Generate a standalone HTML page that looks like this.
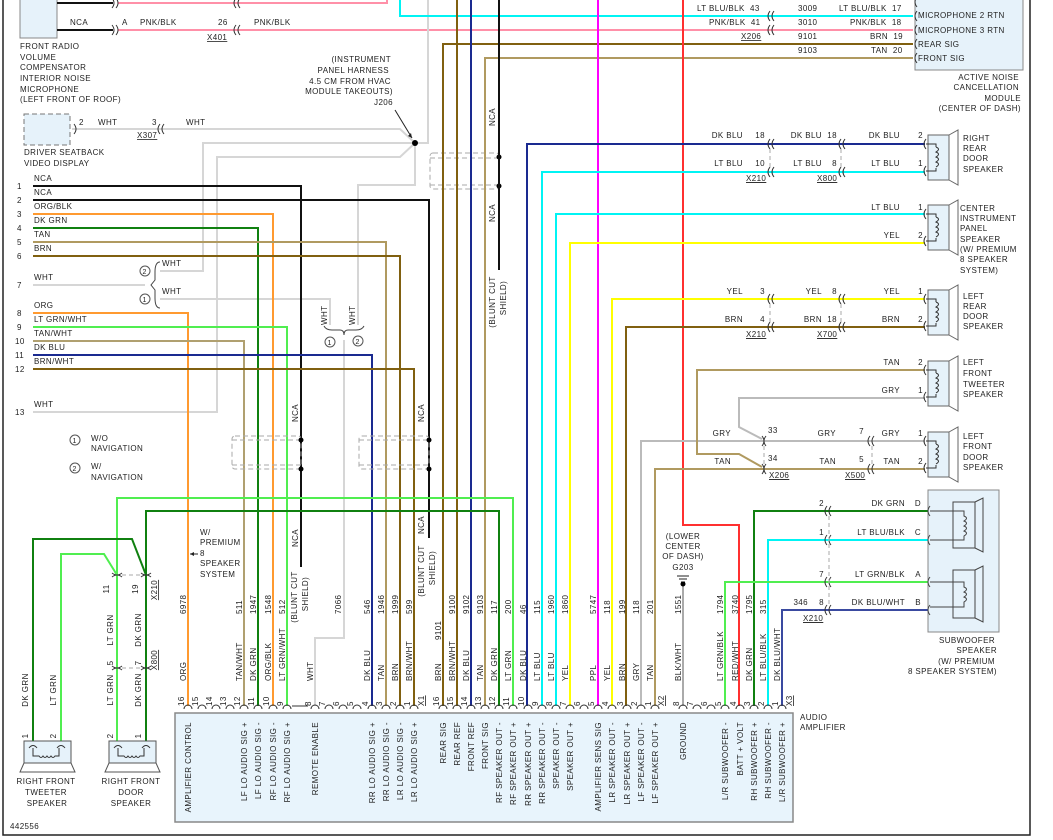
<!DOCTYPE html><html><head><meta charset="utf-8"><style>
body{margin:0;background:#fff}
svg{display:block}
text{font-family:"Liberation Sans",sans-serif;font-size:8px;fill:#222;letter-spacing:.4px}
.w{fill:none;stroke-width:2}
.c{fill:none;stroke:#333;stroke-width:1}
</style></head><body>
<svg width="1053" height="840" viewBox="0 0 1053 840" xmlns="http://www.w3.org/2000/svg">
<path d="M3 0V835H1030V0" fill="none" stroke="#222" stroke-width="1.5"/>

<rect x="20" y="-2" width="37" height="40" fill="#e6f2fa" stroke="#888"/>
<path class="w" stroke="#111" d="M57 3H113M57 30H113"/>
<path class="w" stroke="#ff90a8" d="M118 3H387V0M118 30H913"/>
<path class="c" d="M112 -2q4 5 0 10M116 -2q4 5 0 10M112 25q4 5 0 10M116 25q4 5 0 10M236 -2q-4 5 0 10M240 -2q-4 5 0 10M236 25q-4 5 0 10M240 25q-4 5 0 10"/>
<text x="70" y="25">NCA</text><text x="122" y="25">A</text><text x="140" y="25">PNK/BLK</text><text x="218" y="25">26</text><text x="254" y="25">PNK/BLK</text>
<text x="207" y="40" text-decoration="underline">X401</text>
<text x="20" y="49">FRONT RADIO</text><text x="20" y="60">VOLUME</text><text x="20" y="70">COMPENSATOR</text><text x="20" y="81">INTERIOR NOISE</text><text x="20" y="92">MICROPHONE</text><text x="20" y="102">(LEFT FRONT OF ROOF)</text>

<rect x="24" y="114" width="46" height="31" fill="#e6f2fa" stroke="#777" stroke-dasharray="5,3"/>
<text x="24" y="155">DRIVER SEATBACK</text><text x="24" y="166">VIDEO DISPLAY</text>
<text x="79" y="125">2</text><text x="98" y="125">WHT</text><text x="152" y="125">3</text><text x="186" y="125">WHT</text>
<text x="137" y="138" text-decoration="underline">X307</text>

<g class="w" stroke="#d6d6d6">
<path d="M72 129H400L415 143"/>
<path d="M160 271H203V143H415"/>
<path d="M33 412H217V157H400L415 143"/>
<path d="M415 143V185H358V325"/>
<path d="M428 0V143H415"/>
<path d="M160 299H330V325"/>
<path d="M344 340V638H315V706"/>
<path d="M33 285H145"/>
</g>
<path class="c" d="M74 124q4 5 0 10M160 124q-4 5 0 10M164 124q-4 5 0 10"/>
<path d="M324 326q2 4 8 4h8q4 0 4 5q0-5 4-5h8q6 0 8-4" fill="none" stroke="#444"/>
<circle cx="330" cy="342" r="5" fill="none" stroke="#555"/><text x="327.5" y="345" style="font-size:7px">1</text>
<circle cx="358" cy="341" r="5" fill="none" stroke="#555"/><text x="355.5" y="344" style="font-size:7px">2</text>
<text transform="translate(327,325) rotate(-90)">WHT</text><text transform="translate(355,325) rotate(-90)">WHT</text>
<circle cx="415" cy="143" r="3" fill="#000"/>
<path d="M395 110L412 138" stroke="#222"/><path d="M412 138l-4-2 3-3z" fill="#222"/>
<g text-anchor="end"><text x="391" y="62">(INSTRUMENT</text><text x="389" y="73">PANEL HARNESS</text><text x="391" y="84">4.5 CM FROM HVAC</text><text x="393" y="94">MODULE TAKEOUTS)</text><text x="393" y="105">J206</text></g>

<path d="M160 262q-5 0-5 10v8l-4 5 4 5v8q0 10 5 10" fill="none" stroke="#444"/>
<circle cx="145" cy="271" r="5" fill="none" stroke="#555"/><text x="142.5" y="274" style="font-size:7px">2</text>
<circle cx="145" cy="299" r="5" fill="none" stroke="#555"/><text x="142.5" y="302" style="font-size:7px">1</text>
<text x="162" y="266">WHT</text><text x="162" y="294">WHT</text>

<g class="w">
<path stroke="#111" d="M33 186H301V567"/>
<path stroke="#111" d="M33 200H429V538"/>
<path stroke="#ff9a30" d="M33 214H273V706"/>
<path stroke="#108010" d="M33 228H258V706"/>
<path stroke="#b09a60" d="M33 242H386V706"/>
<path stroke="#806010" d="M33 256H400V706"/>
<path stroke="#ff9a30" d="M33 313H188V706"/>
<path stroke="#50ee50" d="M33 327H287V706"/>
<path stroke="#b0a070" d="M33 341H244V706"/>
<path stroke="#1a2a90" d="M33 355H372V706"/>
<path stroke="#806010" d="M33 369H414V706"/>
</g>
<g><text x="17" y="189">1</text><text x="17" y="203">2</text><text x="17" y="217">3</text><text x="17" y="231">4</text><text x="17" y="245">5</text><text x="17" y="259">6</text><text x="17" y="288">7</text><text x="17" y="316">8</text><text x="17" y="330">9</text><text x="15" y="344">10</text><text x="15" y="358">11</text><text x="15" y="372">12</text><text x="15" y="415">13</text></g>
<g><text x="34" y="181">NCA</text><text x="34" y="195">NCA</text><text x="34" y="209">ORG/BLK</text><text x="34" y="223">DK GRN</text><text x="34" y="237">TAN</text><text x="34" y="251">BRN</text><text x="34" y="280">WHT</text><text x="34" y="308">ORG</text><text x="34" y="322">LT GRN/WHT</text><text x="34" y="336">TAN/WHT</text><text x="34" y="350">DK BLU</text><text x="34" y="364">BRN/WHT</text><text x="34" y="407">WHT</text></g>

<g fill="none" stroke="#aaa" stroke-dasharray="5,3">
<rect x="232" y="436" width="69" height="33" rx="3"/><path d="M232 440H301M232 465H301"/>
<rect x="359" y="436" width="70" height="33" rx="3"/><path d="M359 440H429M359 465H429"/>
<rect x="430" y="153" width="69" height="36" rx="3"/><path d="M430 158H499M430 185H499"/>
</g>
<g fill="#000"><circle cx="301" cy="440" r="2.5"/><circle cx="301" cy="469" r="2.5"/><circle cx="429" cy="440" r="2.5"/><circle cx="429" cy="469" r="2.5"/><circle cx="499" cy="157" r="2.5"/><circle cx="499" cy="186" r="2.5"/></g>
<g text-anchor="middle">
<text transform="translate(298,413) rotate(-90)">NCA</text><text transform="translate(298,538) rotate(-90)">NCA</text>
<text transform="translate(297,597) rotate(-90)">(BLUNT CUT</text><text transform="translate(308,594) rotate(-90)">SHIELD)</text>
<text transform="translate(424,413) rotate(-90)">NCA</text><text transform="translate(424,525) rotate(-90)">NCA</text>
<text transform="translate(424,571) rotate(-90)">(BLUNT CUT</text><text transform="translate(435,568) rotate(-90)">SHIELD)</text>
<text transform="translate(495,117) rotate(-90)">NCA</text><text transform="translate(495,213) rotate(-90)">NCA</text>
<text transform="translate(495,302) rotate(-90)">(BLUNT CUT</text><text transform="translate(506,298) rotate(-90)">SHIELD)</text>
</g>

<circle cx="75" cy="440" r="5" fill="none" stroke="#555"/><text x="72.5" y="443" style="font-size:7px">1</text>
<circle cx="75" cy="468" r="5" fill="none" stroke="#555"/><text x="72.5" y="471" style="font-size:7px">2</text>
<text x="91" y="441">W/O</text><text x="91" y="451">NAVIGATION</text><text x="91" y="469">W/</text><text x="91" y="480">NAVIGATION</text>
<text x="200" y="535">W/</text><text x="200" y="545">PREMIUM</text><text x="200" y="556">8</text><text x="200" y="566">SPEAKER</text><text x="200" y="577">SYSTEM</text>
<path d="M190 554H198" stroke="#222"/><path d="M190 554l4-2v4z" fill="#222"/>

<g class="w">
<path stroke="#00f4f4" d="M400 0V16H913"/>
<path stroke="#806010" d="M443 706V44H913"/>
<path stroke="#b09a60" d="M485 706V58H913"/>
<path stroke="#806010" d="M457 0V706"/>
<path stroke="#1a2a90" d="M471 0V706"/>
<path stroke="#111" d="M499 0V270"/>
<path stroke="#ff00ff" d="M598 0V706"/>
<path stroke="#ff3030" d="M683 0V525H739V706"/>
<path stroke="#aaa" d="M683 586V706"/>
<path stroke="#108010" d="M499 706V511H146V742"/>
<path stroke="#50ee50" d="M513 706V498H117V742"/>
<path stroke="#108010" d="M33 742V539H132L146 575"/>
<path stroke="#50ee50" d="M61 742V554H104L117 575"/>
<path stroke="#1a2a90" d="M527 706V144H925"/>
<path stroke="#00f4f4" d="M542 706V172H925"/>
<path stroke="#00f4f4" d="M556 706V214H925"/>
<path stroke="#ffff00" d="M570 706V243H925"/>
<path stroke="#ffff00" d="M612 706V299H925"/>
<path stroke="#806010" d="M626 706V327H925"/>
<path stroke="#bbb" d="M641 706V441H925"/>
<path stroke="#b09a60" d="M655 706V469H925"/>
<path stroke="#b09a60" d="M925 370H697V454H739L762 467"/>
<path stroke="#bbb" d="M925 398H739V427L762 439"/>
<path stroke="#108010" d="M754 706V511H928"/>
<path stroke="#00f4f4" d="M768 706V540H928"/>
<path stroke="#50ee50" d="M725 706V582H928"/>
<path stroke="#3a4aa0" d="M782 706V610H928"/>
</g>

<path class="c" d="M770 11q-4 5 0 10M774 11q-4 5 0 10M770 25q-4 5 0 10M774 25q-4 5 0 10"/>
<text x="697" y="11">LT BLU/BLK&#160;&#160;43</text><text x="798" y="11">3009</text><text x="839" y="11">LT BLU/BLK&#160;&#160;17</text>
<text x="709" y="25">PNK/BLK&#160;&#160;41</text><text x="798" y="25">3010</text><text x="850" y="25">PNK/BLK&#160;&#160;18</text>
<text x="741" y="39" text-decoration="underline">X206</text>
<text x="798" y="39">9101</text><text x="870" y="39">BRN&#160;&#160;19</text>
<text x="798" y="53">9103</text><text x="871" y="53">TAN&#160;&#160;20</text>
<rect x="915" y="-2" width="108" height="72" fill="#e6f2fa" stroke="#888"/>
<path class="c" d="M917 11q-4 5 0 10M917 25q-4 5 0 10M917 39q-4 5 0 10M917 53q-4 5 0 10M917 -3q-4 5 0 10"/>
<text x="918" y="18">MICROPHONE 2 RTN</text><text x="918" y="33">MICROPHONE 3 RTN</text><text x="918" y="47">REAR SIG</text><text x="918" y="61">FRONT SIG</text>
<g text-anchor="end"><text x="1019" y="80">ACTIVE NOISE</text><text x="1019" y="90">CANCELLATION</text><text x="1021" y="101">MODULE</text><text x="1021" y="111">(CENTER OF DASH)</text></g>

<g class="c">
<path d="M770 139q-4 5 0 10M774 139q-4 5 0 10M770 167q-4 5 0 10M774 167q-4 5 0 10M841 139q-4 5 0 10M845 139q-4 5 0 10M841 167q-4 5 0 10M845 167q-4 5 0 10"/>
<path d="M770 294q-4 5 0 10M774 294q-4 5 0 10M770 322q-4 5 0 10M774 322q-4 5 0 10M841 294q-4 5 0 10M845 294q-4 5 0 10M841 322q-4 5 0 10M845 322q-4 5 0 10"/>
<path d="M762 436q4 5 0 10M766 436q-4 5 0 10M762 464q4 5 0 10M766 464q-4 5 0 10M870 436q-4 5 0 10M874 436q-4 5 0 10M870 464q-4 5 0 10M874 464q-4 5 0 10"/>
<path d="M827 506q-4 5 0 10M831 506q-4 5 0 10M827 535q-4 5 0 10M831 535q-4 5 0 10M827 577q-4 5 0 10M831 577q-4 5 0 10M827 605q-4 5 0 10M831 605q-4 5 0 10"/>
<path stroke="#aaa" stroke-dasharray="4,3" d="M770 149V167M841 149V167M770 304V322M841 304V322M764 446V464M872 446V464M829 516V605"/>
</g>
<g text-anchor="end">
<text x="743" y="138">DK BLU</text><text x="765" y="138">18</text><text x="822" y="138">DK BLU</text><text x="837" y="138">18</text><text x="900" y="138">DK BLU</text><text x="923" y="138">2</text>
<text x="743" y="166">LT BLU</text><text x="765" y="166">10</text><text x="822" y="166">LT BLU</text><text x="837" y="166">8</text><text x="900" y="166">LT BLU</text><text x="923" y="166">1</text>
<text x="900" y="210">LT BLU</text><text x="923" y="210">1</text><text x="900" y="238">YEL</text><text x="923" y="238">2</text>
<text x="743" y="294">YEL</text><text x="765" y="294">3</text><text x="822" y="294">YEL</text><text x="837" y="294">8</text><text x="900" y="294">YEL</text><text x="923" y="294">1</text>
<text x="743" y="322">BRN</text><text x="765" y="322">4</text><text x="822" y="322">BRN</text><text x="837" y="322">18</text><text x="900" y="322">BRN</text><text x="923" y="322">2</text>
<text x="900" y="365">TAN</text><text x="923" y="365">2</text><text x="900" y="393">GRY</text><text x="923" y="393">1</text>
<text x="731" y="436">GRY</text><text x="836" y="436">GRY</text><text x="864" y="434">7</text><text x="900" y="436">GRY</text><text x="923" y="436">1</text>
<text x="731" y="464">TAN</text><text x="836" y="464">TAN</text><text x="864" y="462">5</text><text x="900" y="464">TAN</text><text x="923" y="464">2</text>
<text x="824" y="506">2</text><text x="905" y="506">DK GRN</text><text x="921" y="506">D</text>
<text x="824" y="535">1</text><text x="905" y="535">LT BLU/BLK</text><text x="921" y="535">C</text>
<text x="824" y="577">7</text><text x="905" y="577">LT GRN/BLK</text><text x="921" y="577">A</text>
<text x="824" y="605">8</text><text x="905" y="605">DK BLU/WHT</text><text x="921" y="605">B</text><text x="808" y="605">346</text>
</g>
<text x="768" y="433">33</text><text x="768" y="461">34</text>
<g text-decoration="underline"><text x="746" y="181">X210</text><text x="817" y="181">X800</text><text x="746" y="337">X210</text><text x="817" y="337">X700</text><text x="769" y="478">X206</text><text x="845" y="478">X500</text><text x="803" y="621">X210</text></g>

<defs><g id="spk"><rect x="928" y="0" width="21" height="45" fill="#e6f2fa" stroke="#666"/><path d="M949 0L958-5V50L949 45" fill="none" stroke="#666"/><path d="M926 9h10v3M926 36h10v-3M936 12q5 2 0 5q5 2 0 5q5 2 0 5q5 2 0 5" fill="none" stroke="#333"/><path d="M926 4q-4 5 0 10M926 31q-4 5 0 10" fill="none" stroke="#333"/></g></defs>
<use href="#spk" y="135"/><use href="#spk" y="205"/><use href="#spk" y="290"/><use href="#spk" y="361"/><use href="#spk" y="432"/>
<text x="963" y="141">RIGHT</text><text x="963" y="151">REAR</text><text x="963" y="161">DOOR</text><text x="963" y="172">SPEAKER</text>
<text x="960" y="211">CENTER</text><text x="960" y="221">INSTRUMENT</text><text x="960" y="231">PANEL</text><text x="960" y="242">SPEAKER</text><text x="960" y="252">(W/ PREMIUM</text><text x="960" y="262">8 SPEAKER</text><text x="960" y="273">SYSTEM)</text>
<text x="963" y="299">LEFT</text><text x="963" y="309">REAR</text><text x="963" y="319">DOOR</text><text x="963" y="329">SPEAKER</text>
<text x="963" y="365">LEFT</text><text x="963" y="376">FRONT</text><text x="963" y="387">TWEETER</text><text x="963" y="397">SPEAKER</text>
<text x="963" y="439">LEFT</text><text x="963" y="449">FRONT</text><text x="963" y="460">DOOR</text><text x="963" y="470">SPEAKER</text>

<rect x="928" y="490" width="71" height="142" fill="#e6f2fa" stroke="#888"/>
<g fill="none" stroke="#444">
<rect x="953" y="502" width="22" height="46"/><path d="M975 502L983 498V552L975 548"/>
<rect x="953" y="570" width="22" height="48"/><path d="M975 570L983 566V622L975 618"/>
<path d="M930 511H964v5q5 2 0 5q5 2 0 5q5 2 0 5q5 2 0 5v4H930M930 582H964v5q5 2 0 5q5 2 0 5q5 2 0 5v5H930"/>
<path d="M930 506q-4 5 0 10M930 535q-4 5 0 10M930 577q-4 5 0 10M930 605q-4 5 0 10"/>
</g>
<g text-anchor="end"><text x="995" y="643">SUBWOOFER</text><text x="997" y="653">SPEAKER</text><text x="995" y="664">(W/ PREMIUM</text><text x="997" y="674">8 SPEAKER SYSTEM)</text></g>

<g text-anchor="middle"><text x="683" y="539">(LOWER</text><text x="683" y="549">CENTER</text><text x="683" y="559">OF DASH)</text><text x="683" y="570">G203</text></g>
<path d="M677 576H689M679 579H687M681 582H685" stroke="#222"/><circle cx="683" cy="584" r="2.5" fill="#000"/>

<path class="c" d="M112 577q5-4 10 0M141 577q5-4 10 0M112 573q5 4 10 0M141 573q5 4 10 0M112 670q5-4 10 0M141 670q5-4 10 0M112 666q5 4 10 0M141 666q5 4 10 0"/>
<path stroke="#aaa" stroke-dasharray="4,3" d="M122 575H141M122 668H141"/>
<g fill="#e6f2fa" stroke="#555">
<rect x="24" y="741" width="47" height="22"/><path d="M24 763L20 772H75L71 763" fill="none"/>
<rect x="109" y="741" width="47" height="22"/><path d="M109 763L105 772H160L156 763" fill="none"/>
</g>
<path class="c" d="M29 748q4-5 8 0M57 748q4-5 8 0M33 748v8h6q2 3 4 0q2 3 4 0q2 3 4 0q2 3 4 0h4v-8M114 748q4-5 8 0M142 748q4-5 8 0M118 748v8h6q2 3 4 0q2 3 4 0q2 3 4 0q2 3 4 0h4v-8"/>
<g text-anchor="middle"><text x="46" y="784">RIGHT FRONT</text><text x="46" y="795">TWEETER</text><text x="47" y="806">SPEAKER</text><text x="131" y="784">RIGHT FRONT</text><text x="131" y="795">DOOR</text><text x="131" y="806">SPEAKER</text></g>
<g text-anchor="middle">
<text transform="translate(28,690) rotate(-90)">DK GRN</text><text transform="translate(28,736) rotate(-90)">1</text>
<text transform="translate(56,690) rotate(-90)">LT GRN</text><text transform="translate(56,736) rotate(-90)">2</text>
<text transform="translate(113,690) rotate(-90)">LT GRN</text><text transform="translate(113,736) rotate(-90)">2</text>
<text transform="translate(141,690) rotate(-90)">DK GRN</text><text transform="translate(141,736) rotate(-90)">1</text>
<text transform="translate(113,630) rotate(-90)">LT GRN</text><text transform="translate(113,663) rotate(-90)">5</text><text transform="translate(109,589) rotate(-90)">11</text>
<text transform="translate(141,630) rotate(-90)">DK GRN</text><text transform="translate(141,663) rotate(-90)">7</text><text transform="translate(138,589) rotate(-90)">19</text>
<text transform="translate(157,590) rotate(-90)" text-decoration="underline">X210</text><text transform="translate(157,660) rotate(-90)" text-decoration="underline">X800</text>
</g>
<text x="10" y="829">442556</text>

<rect x="175" y="713" width="618" height="109" fill="#e8f4fc" stroke="#888" stroke-width="1.5"/>
<path class="c" d="M184 709a4 4 0 0 1 8 0M198 709a4 4 0 0 1 8 0M212 709a4 4 0 0 1 8 0M226 709a4 4 0 0 1 8 0M240 709a4 4 0 0 1 8 0M254 709a4 4 0 0 1 8 0M269 709a4 4 0 0 1 8 0M283 709a4 4 0 0 1 8 0M311 709a4 4 0 0 1 8 0M325 709a4 4 0 0 1 8 0M339 709a4 4 0 0 1 8 0M353 709a4 4 0 0 1 8 0M368 709a4 4 0 0 1 8 0M382 709a4 4 0 0 1 8 0M396 709a4 4 0 0 1 8 0M410 709a4 4 0 0 1 8 0M439 709a4 4 0 0 1 8 0M453 709a4 4 0 0 1 8 0M467 709a4 4 0 0 1 8 0M481 709a4 4 0 0 1 8 0M495 709a4 4 0 0 1 8 0M509 709a4 4 0 0 1 8 0M524 709a4 4 0 0 1 8 0M538 709a4 4 0 0 1 8 0M552 709a4 4 0 0 1 8 0M566 709a4 4 0 0 1 8 0M580 709a4 4 0 0 1 8 0M594 709a4 4 0 0 1 8 0M608 709a4 4 0 0 1 8 0M623 709a4 4 0 0 1 8 0M637 709a4 4 0 0 1 8 0M651 709a4 4 0 0 1 8 0M679 709a4 4 0 0 1 8 0M693 709a4 4 0 0 1 8 0M707 709a4 4 0 0 1 8 0M721 709a4 4 0 0 1 8 0M736 709a4 4 0 0 1 8 0M750 709a4 4 0 0 1 8 0M764 709a4 4 0 0 1 8 0M778 709a4 4 0 0 1 8 0M292 706H308"/>
<g text-anchor="start" style="font-size:7px">
<text transform="translate(184,706) rotate(-90)">16</text><text transform="translate(198,706) rotate(-90)">15</text><text transform="translate(212,706) rotate(-90)">14</text><text transform="translate(226,706) rotate(-90)">13</text><text transform="translate(240,706) rotate(-90)">12</text><text transform="translate(254,706) rotate(-90)">11</text><text transform="translate(269,706) rotate(-90)">10</text><text transform="translate(283,706) rotate(-90)">9</text>
<text transform="translate(311,706) rotate(-90)">8</text><text transform="translate(325,706) rotate(-90)">7</text><text transform="translate(339,706) rotate(-90)">6</text><text transform="translate(353,706) rotate(-90)">5</text><text transform="translate(368,706) rotate(-90)">4</text><text transform="translate(382,706) rotate(-90)">3</text><text transform="translate(396,706) rotate(-90)">2</text><text transform="translate(410,706) rotate(-90)">1</text>
<text transform="translate(439,706) rotate(-90)">16</text><text transform="translate(453,706) rotate(-90)">15</text><text transform="translate(467,706) rotate(-90)">14</text><text transform="translate(481,706) rotate(-90)">13</text><text transform="translate(495,706) rotate(-90)">12</text><text transform="translate(509,706) rotate(-90)">11</text><text transform="translate(524,706) rotate(-90)">10</text><text transform="translate(538,706) rotate(-90)">9</text><text transform="translate(552,706) rotate(-90)">8</text><text transform="translate(566,706) rotate(-90)">7</text><text transform="translate(580,706) rotate(-90)">6</text><text transform="translate(594,706) rotate(-90)">5</text><text transform="translate(608,706) rotate(-90)">4</text><text transform="translate(623,706) rotate(-90)">3</text><text transform="translate(637,706) rotate(-90)">2</text><text transform="translate(651,706) rotate(-90)">1</text>
<text transform="translate(679,706) rotate(-90)">8</text><text transform="translate(693,706) rotate(-90)">7</text><text transform="translate(707,706) rotate(-90)">6</text><text transform="translate(721,706) rotate(-90)">5</text><text transform="translate(736,706) rotate(-90)">4</text><text transform="translate(750,706) rotate(-90)">3</text><text transform="translate(764,706) rotate(-90)">2</text><text transform="translate(778,706) rotate(-90)">1</text>
<text transform="translate(424,706) rotate(-90)" text-decoration="underline">X1</text><text transform="translate(664,706) rotate(-90)" text-decoration="underline">X2</text><text transform="translate(792,706) rotate(-90)" text-decoration="underline">X3</text>
</g>
<text x="800" y="720">AUDIO</text><text x="800" y="730">AMPLIFIER</text>
<g text-anchor="end">
<text transform="translate(191,722) rotate(-90)">AMPLIFIER CONTROL</text>
<text transform="translate(247,722) rotate(-90)">LF LO AUDIO SIG +</text><text transform="translate(261,722) rotate(-90)">LF LO AUDIO SIG -</text><text transform="translate(276,722) rotate(-90)">RF LO AUDIO SIG -</text><text transform="translate(290,722) rotate(-90)">RF LO AUDIO SIG +</text>
<text transform="translate(318,722) rotate(-90)">REMOTE ENABLE</text>
<text transform="translate(375,722) rotate(-90)">RR LO AUDIO SIG +</text><text transform="translate(389,722) rotate(-90)">RR LO AUDIO SIG -</text><text transform="translate(403,722) rotate(-90)">LR LO AUDIO SIG -</text><text transform="translate(417,722) rotate(-90)">LR LO AUDIO SIG +</text>
<text transform="translate(446,722) rotate(-90)">REAR SIG</text><text transform="translate(460,722) rotate(-90)">REAR REF</text><text transform="translate(474,722) rotate(-90)">FRONT REF</text><text transform="translate(488,722) rotate(-90)">FRONT SIG</text>
<text transform="translate(502,722) rotate(-90)">RF SPEAKER OUT -</text><text transform="translate(516,722) rotate(-90)">RF SPEAKER OUT +</text><text transform="translate(531,722) rotate(-90)">RR SPEAKER OUT +</text><text transform="translate(545,722) rotate(-90)">RR SPEAKER OUT -</text><text transform="translate(559,722) rotate(-90)">SPEAKER OUT -</text><text transform="translate(573,722) rotate(-90)">SPEAKER OUT +</text>
<text transform="translate(601,722) rotate(-90)">AMPLIFIER SENS SIG</text><text transform="translate(615,722) rotate(-90)">LR SPEAKER OUT -</text><text transform="translate(630,722) rotate(-90)">LR SPEAKER OUT +</text><text transform="translate(644,722) rotate(-90)">LF SPEAKER OUT -</text><text transform="translate(658,722) rotate(-90)">LF SPEAKER OUT +</text>
<text transform="translate(686,722) rotate(-90)">GROUND</text>
<text transform="translate(728,722) rotate(-90)">L/R SUBWOOFER -</text><text transform="translate(743,722) rotate(-90)">BATT + VOLT</text><text transform="translate(757,722) rotate(-90)">RH SUBWOOFER +</text><text transform="translate(771,722) rotate(-90)">RH SUBWOOFER -</text><text transform="translate(785,722) rotate(-90)">L/R SUBWOOFER +</text>
</g>
<g text-anchor="start">
<text transform="translate(186,681) rotate(-90)">ORG</text><text transform="translate(242,681) rotate(-90)">TAN/WHT</text><text transform="translate(256,681) rotate(-90)">DK GRN</text><text transform="translate(271,681) rotate(-90)">ORG/BLK</text><text transform="translate(285,681) rotate(-90)">LT GRN/WHT</text><text transform="translate(313,681) rotate(-90)">WHT</text>
<text transform="translate(370,681) rotate(-90)">DK BLU</text><text transform="translate(384,681) rotate(-90)">TAN</text><text transform="translate(398,681) rotate(-90)">BRN</text><text transform="translate(412,681) rotate(-90)">BRN/WHT</text>
<text transform="translate(441,681) rotate(-90)">BRN</text><text transform="translate(455,681) rotate(-90)">BRN/WHT</text><text transform="translate(469,681) rotate(-90)">DK BLU</text><text transform="translate(483,681) rotate(-90)">TAN</text><text transform="translate(497,681) rotate(-90)">DK GRN</text><text transform="translate(511,681) rotate(-90)">LT GRN</text><text transform="translate(526,681) rotate(-90)">DK BLU</text><text transform="translate(540,681) rotate(-90)">LT BLU</text><text transform="translate(554,681) rotate(-90)">LT BLU</text><text transform="translate(568,681) rotate(-90)">YEL</text>
<text transform="translate(596,681) rotate(-90)">PPL</text><text transform="translate(610,681) rotate(-90)">YEL</text><text transform="translate(625,681) rotate(-90)">BRN</text><text transform="translate(639,681) rotate(-90)">GRY</text><text transform="translate(653,681) rotate(-90)">TAN</text>
<text transform="translate(681,681) rotate(-90)">BLK/WHT</text><text transform="translate(723,681) rotate(-90)">LT GRN/BLK</text><text transform="translate(738,681) rotate(-90)">RED/WHT</text><text transform="translate(752,681) rotate(-90)">DK GRN</text><text transform="translate(766,681) rotate(-90)">LT BLU/BLK</text><text transform="translate(780,681) rotate(-90)">DK BLU/WHT</text>
<text transform="translate(186,614) rotate(-90)">6978</text><text transform="translate(242,614) rotate(-90)">511</text><text transform="translate(256,614) rotate(-90)">1947</text><text transform="translate(271,614) rotate(-90)">1548</text><text transform="translate(285,614) rotate(-90)">512</text><text transform="translate(341,614) rotate(-90)">7066</text>
<text transform="translate(370,614) rotate(-90)">546</text><text transform="translate(384,614) rotate(-90)">1946</text><text transform="translate(398,614) rotate(-90)">1999</text><text transform="translate(412,614) rotate(-90)">599</text>
<text transform="translate(441,640) rotate(-90)">9101</text><text transform="translate(455,614) rotate(-90)">9100</text><text transform="translate(469,614) rotate(-90)">9102</text><text transform="translate(483,614) rotate(-90)">9103</text><text transform="translate(497,614) rotate(-90)">117</text><text transform="translate(511,614) rotate(-90)">200</text><text transform="translate(526,614) rotate(-90)">46</text><text transform="translate(540,614) rotate(-90)">115</text><text transform="translate(554,614) rotate(-90)">1960</text><text transform="translate(568,614) rotate(-90)">1860</text>
<text transform="translate(596,614) rotate(-90)">5747</text><text transform="translate(610,614) rotate(-90)">118</text><text transform="translate(625,614) rotate(-90)">199</text><text transform="translate(639,614) rotate(-90)">118</text><text transform="translate(653,614) rotate(-90)">201</text>
<text transform="translate(681,614) rotate(-90)">1551</text><text transform="translate(723,614) rotate(-90)">1794</text><text transform="translate(738,614) rotate(-90)">3740</text><text transform="translate(752,614) rotate(-90)">1795</text><text transform="translate(766,614) rotate(-90)">315</text>
</g>
</svg>
</body></html>
